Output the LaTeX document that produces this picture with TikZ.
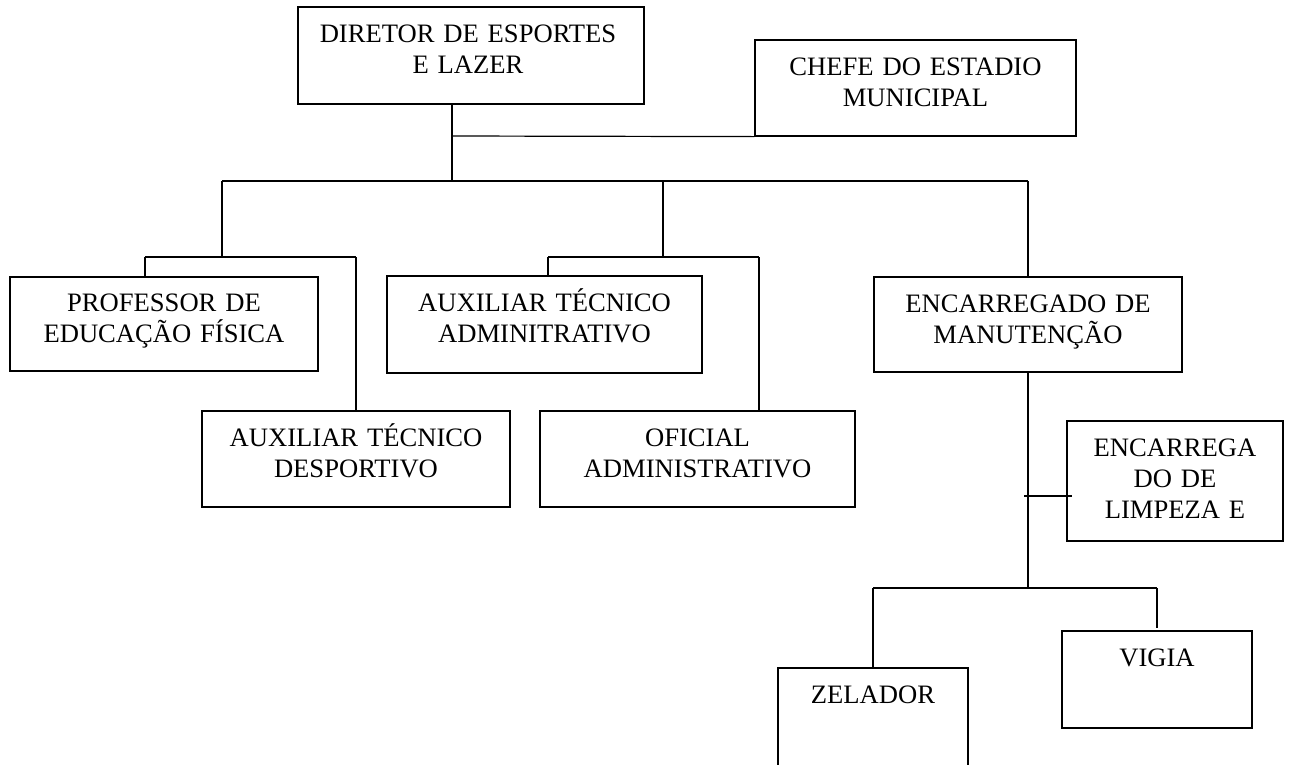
\documentclass[tikz,border=0pt]{standalone}
\usepackage{fontspec}
\setmainfont{Liberation Serif}
\begin{document}
\begin{tikzpicture}[x=1pt,y=-1pt,
  box/.style={draw, line width=1.2pt, inner sep=0pt, rectangle},
  txt/.style={anchor=base, inner sep=0pt, align=center, text width=#1,
    font=\fontsize{26.6}{31}\selectfont},
  txt/.default=300pt,
  conn/.style={line width=1.2pt}]
\useasboundingbox (0,0) rectangle (1290,764);
% boxes
\node[box, minimum width=346pt, minimum height=97pt] (dir) at (471,55.5) {};
\node[box, minimum width=321pt, minimum height=96pt] (chefe) at (915.5,88) {};
\node[box, minimum width=308pt, minimum height=94pt] (prof) at (164,324) {};
\node[box, minimum width=315pt, minimum height=97pt] (auxadm) at (544.5,324.5) {};
\node[box, minimum width=308pt, minimum height=95pt] (encman) at (1028,324.5) {};
\node[box, minimum width=308pt, minimum height=96pt] (auxdesp) at (356,459) {};
\node[box, minimum width=315pt, minimum height=96pt] (oficial) at (697.5,459) {};
\node[box, minimum width=216pt, minimum height=120pt] (limp) at (1175,481) {};
\node[box, minimum width=190pt, minimum height=97pt] (vigia) at (1157,679.5) {};
\node[box, minimum width=190pt, minimum height=112pt] (zel) at (873,724) {};
% texts
\node[txt=340pt] (dirt) at (468,42.5) {DIRETOR DE ESPORTES\\E LAZER};
\node[txt] (chefet) at (915.5,75.5) {CHEFE DO ESTADIO\\MUNICIPAL};
\node[txt] (proft) at (164,311.5) {PROFESSOR DE\\EDUCAÇÃO FÍSICA};
\node[txt] (auxadmt) at (544.5,311.5) {AUXILIAR TÉCNICO\\ADMINITRATIVO};
\node[txt] (encmant) at (1028,312) {ENCARREGADO DE\\MANUTENÇÃO};
\node[txt] (auxdespt) at (356,446) {AUXILIAR TÉCNICO\\DESPORTIVO};
\node[txt] (oficialt) at (697.5,446) {OFICIAL\\ADMINISTRATIVO};
\node[txt=210pt] (limpt) at (1175,456) {ENCARREGA\\DO DE\\LIMPEZA E};
\node[txt] (vigiat) at (1157,666) {VIGIA};
\node[txt] (zelt) at (873,703) {ZELADOR};
% junction coordinates
\coordinate (j0) at (452,136);
\coordinate (j1) at (452,181);
\coordinate (jL) at (222,181);
\coordinate (jM) at (663,181);
\coordinate (jR) at (1028,181);
\coordinate (jL2) at (222,257);
\coordinate (jLa) at (145,257);
\coordinate (jLb) at (356,257);
\coordinate (jM2) at (663,257);
\coordinate (jMa) at (548,257);
\coordinate (jMb) at (759,257);
\coordinate (jT) at (1024,496);
\coordinate (jB) at (1028,588);
\coordinate (jBa) at (873,588);
\coordinate (jBb) at (1157,588);
\coordinate (vg) at (1157,628);
% connectors
\draw[conn] (dir.south -| j0) -- (j1);
\draw[conn] (j0) -- (chefe.south west);
\draw[conn] (jL) -- (jR);
\draw[conn] (jL) -- (jL2);
\draw[conn] (jLa) -- (jLb);
\draw[conn] (jLa) -- (prof.north -| jLa);
\draw[conn] (jLb) -- (auxdesp.north -| jLb);
\draw[conn] (jM) -- (jM2);
\draw[conn] (jMa) -- (jMb);
\draw[conn] (jMa) -- (auxadm.north -| jMa);
\draw[conn] (jMb) -- (oficial.north -| jMb);
\draw[conn] (jR) -- (encman.north);
\draw[conn] (encman.south) -- (jB);
\draw[conn] (jT) -- ([xshift=6pt]limp.west |- jT);
\draw[conn] (jBa) -- (jBb);
\draw[conn] (jBa) -- (zel.north -| jBa);
\draw[conn] (jBb) -- (vg);
\end{tikzpicture}
\end{document}
